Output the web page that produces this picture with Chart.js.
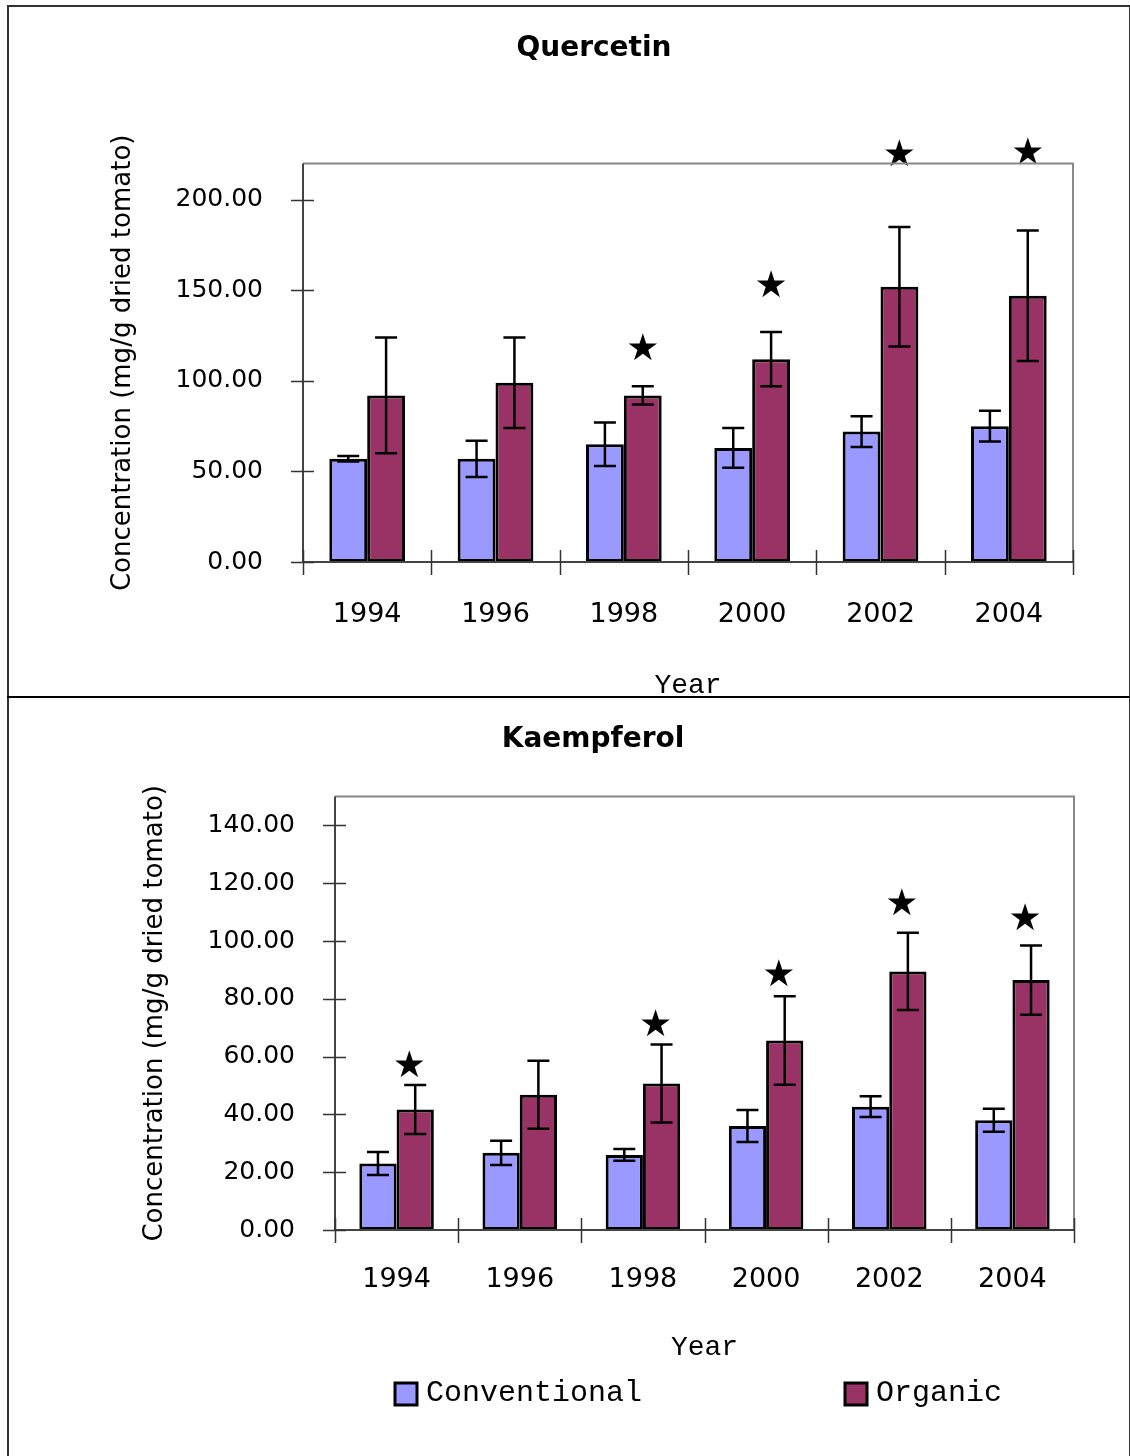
<!DOCTYPE html>
<html>
<head>
<meta charset="utf-8">
<script src="https://cdn.jsdelivr.net/npm/chart.js@4.4.1/dist/chart.umd.min.js"></script>
<style>
  html, body { margin: 0; padding: 0; background: #fff; }
  body { width: 1130px; height: 1456px; position: relative; overflow: hidden; }
  #frame { position: absolute; left: 7px; top: 5px; width: 1120px; height: 1470px;
           border-left: 2px solid #333; border-top: 2px solid #333; border-right: 2px solid #333; }
  #divider { position: absolute; left: 7px; top: 696px; width: 1124px; height: 2px; background: #000; }
  canvas { position: absolute; }
  #c1 { left: 9px; top: 7px; }
  #c2 { left: 9px; top: 699px; }
</style>
</head>
<body>
<div id="frame"></div>
<canvas id="c1" width="1118" height="689"></canvas>
<canvas id="c2" width="1118" height="757"></canvas>
<div id="divider"></div>
<script>
// ---- Data ----
const years = ['1994', '1996', '1998', '2000', '2002', '2004'];
const seriesNames = ['Conventional', 'Organic'];

const quercetinConv    = [57, 57, 65, 63, 72, 75];
const quercetinConvErr = [1.5, 10, 12, 11, 8.5, 8.5];
const quercetinOrg     = [92, 99, 92, 112, 152, 147];
const quercetinOrgErr  = [32, 25, 5, 15, 33, 36];
const quercetinStars   = [null, null, 118, 153, 225, 226];
const quercetinTicks   = [0, 50, 100, 150, 200];

const kaempferolConv    = [23, 26.7, 26, 36, 42.7, 38];
const kaempferolConvErr = [4, 4.2, 2, 5.5, 3.6, 4];
const kaempferolOrg     = [41.7, 46.8, 50.7, 65.6, 89.5, 86.5];
const kaempferolOrgErr  = [8.5, 11.8, 13.5, 15.3, 13.4, 12];
const kaempferolStars   = [57, null, 71, 88.5, 113, 108];
const kaempferolTicks   = [0, 20, 40, 60, 80, 100, 120, 140];

const yTitle = 'Concentration (mg/g dried tomato)';

// ---- Plugins ----
const decorPlugin = {
  id: 'decor',
  afterDatasetsDraw(chart, args, opts) {
    const ctx = chart.ctx;
    const ys = chart.scales.y;
    // error bars
    chart.data.datasets.forEach((ds, di) => {
      const meta = chart.getDatasetMeta(di);
      meta.data.forEach((el, j) => {
        const v = ds.data[j], e = ds.errors[j];
        const yt = ys.getPixelForValue(v + e), yb = ys.getPixelForValue(v - e);
        ctx.save();
        ctx.strokeStyle = '#000';
        ctx.lineWidth = 2.5;
        ctx.beginPath();
        ctx.moveTo(el.x, yt); ctx.lineTo(el.x, yb);
        ctx.moveTo(el.x - 11, yt); ctx.lineTo(el.x + 11, yt);
        ctx.moveTo(el.x - 11, yb); ctx.lineTo(el.x + 11, yb);
        ctx.stroke();
        ctx.restore();
      });
    });
    // significance stars above organic bars
    const orgMeta = chart.getDatasetMeta(1);
    ctx.save();
    ctx.fillStyle = '#000';
    ctx.font = '37px "DejaVu Sans"';
    ctx.textAlign = 'center';
    ctx.textBaseline = 'middle';
    opts.stars.forEach((s, j) => {
      if (s === null) return;
      ctx.fillText('\u2605', orgMeta.data[j].x + (opts.starDx || 0), ys.getPixelForValue(s) + 2);
    });
    ctx.restore();
  },
  afterDraw(chart, args, opts) {
    const ctx = chart.ctx;
    const a = chart.chartArea;
    const ys = chart.scales.y, xs = chart.scales.x;
    ctx.save();
    // plot frame
    ctx.lineWidth = 2;
    ctx.strokeStyle = '#888';
    ctx.beginPath();
    ctx.moveTo(a.left, a.top); ctx.lineTo(a.right, a.top); ctx.lineTo(a.right, a.bottom);
    ctx.stroke();
    ctx.strokeStyle = '#444';
    ctx.beginPath();
    ctx.moveTo(a.left, a.top); ctx.lineTo(a.left, a.bottom); ctx.lineTo(a.right, a.bottom);
    ctx.stroke();
    // crossing tick marks
    ctx.lineWidth = 1.5;
    ctx.strokeStyle = '#333';
    ctx.beginPath();
    ys.ticks.forEach(t => {
      const y = Math.round(ys.getPixelForValue(t.value)) + 0.5;
      ctx.moveTo(a.left - 12, y); ctx.lineTo(a.left + 11, y);
    });
    const n = xs.ticks.length;
    const w = (a.right - a.left) / n;
    for (let i = 0; i <= n; i++) {
      const x = Math.round(a.left + i * w) + 0.5;
      ctx.moveTo(x, a.bottom - 12); ctx.lineTo(x, a.bottom + 13);
    }
    ctx.stroke();
    // legend
    if (opts.legend) {
      const L = opts.legend;
      chart.data.datasets.forEach((ds, i) => {
        const lx = L.x[i];
        ctx.fillStyle = ds.backgroundColor;
        ctx.fillRect(lx, L.y - 11, 22, 22);
        ctx.lineWidth = 3;
        ctx.strokeStyle = '#000';
        ctx.strokeRect(lx, L.y - 11, 22, 22);
        ctx.fillStyle = '#000';
        ctx.font = '30px "Liberation Mono"';
        ctx.textAlign = 'left';
        ctx.textBaseline = 'middle';
        ctx.fillText(ds.label, lx + 31, L.y - 1);
      });
    }
    ctx.restore();
  }
};

function makeChart(id, cfg) {
  return new Chart(document.getElementById(id), {
    type: 'bar',
    data: {
      labels: years,
      datasets: [
        { label: seriesNames[0], data: cfg.conv, errors: cfg.convErr,
          backgroundColor: '#9999FF', borderColor: '#000', borderWidth: 3, borderSkipped: false,
          barPercentage: 1, categoryPercentage: cfg.catPct },
        { label: seriesNames[1], data: cfg.org, errors: cfg.orgErr,
          backgroundColor: '#993366', borderColor: '#000', borderWidth: 3, borderSkipped: false,
          barPercentage: 1, categoryPercentage: cfg.catPct }
      ]
    },
    options: {
      responsive: false,
      animation: false,
      devicePixelRatio: 1,
      layout: { padding: { left: cfg.padL, right: cfg.padR, top: 0, bottom: 0 } },
      plugins: {
        legend: { display: false },
        tooltip: { enabled: false },
        title: {
          display: true, text: cfg.title, color: '#000',
          font: { family: 'DejaVu Sans', size: 28, weight: 'bold' },
          padding: { top: cfg.titlePadTop, bottom: cfg.titlePadBottom }
        },
        decor: { stars: cfg.stars, legend: cfg.legend, starDx: cfg.starDx }
      },
      scales: {
        x: {
          grid: { display: false, drawTicks: false },
          border: { display: false },
          ticks: { color: '#000', font: { family: 'DejaVu Sans', size: 27 }, padding: cfg.xTickPad, maxRotation: 0 },
          title: { display: true, text: 'Year', color: '#000',
                   font: { family: 'Liberation Mono', size: 28, lineHeight: cfg.xTitleLH },
                   padding: { top: 0, bottom: cfg.xTitlePadBottom } },
          afterFit: s => { s.height = cfg.xHeight; }
        },
        y: {
          min: 0, max: cfg.yMax,
          grid: { display: false, drawTicks: false },
          border: { display: false },
          afterBuildTicks: s => { s.ticks = cfg.ticks.map(v => ({ value: v })); },
          ticks: { color: '#000', font: { family: 'DejaVu Sans', size: 25 }, padding: 40,
                   callback: v => Number(v).toFixed(2) },
          title: { display: true, text: yTitle, color: '#000',
                   font: { family: 'DejaVu Sans', size: 26, lineHeight: 1.2 },
                   padding: { top: cfg.yTitlePad, bottom: 0 } },
          afterFit: s => { s.width = cfg.yWidth; }
        }
      }
    },
    plugins: [decorPlugin]
  });
}

makeChart('c1', {
  title: 'Quercetin', conv: quercetinConv, convErr: quercetinConvErr,
  org: quercetinOrg, orgErr: quercetinOrgErr, stars: quercetinStars, ticks: quercetinTicks,
  yMax: 220, catPct: 0.59, titlePadTop: 25, titlePadBottom: 98,
  xHeight: 134, xTickPad: 37, xTitleLH: 0.72, xTitlePadBottom: 0,
  padL: 106, padR: 54, yWidth: 188, yTitlePad: -7.6, starDx: 0
});

makeChart('c2', {
  title: 'Kaempferol', conv: kaempferolConv, convErr: kaempferolConvErr,
  org: kaempferolOrg, orgErr: kaempferolOrgErr, stars: kaempferolStars, ticks: kaempferolTicks,
  yMax: 150, catPct: 0.605, titlePadTop: 24, titlePadBottom: 40,
  xHeight: 226, xTickPad: 34, xTitleLH: 1.2, xTitlePadBottom: 92,
  padL: 103, padR: 53, yWidth: 223, yTitlePad: 27.4, starDx: -6,
  legend: { x: [386, 836], y: 695 }
});
</script>
</body>
</html>
